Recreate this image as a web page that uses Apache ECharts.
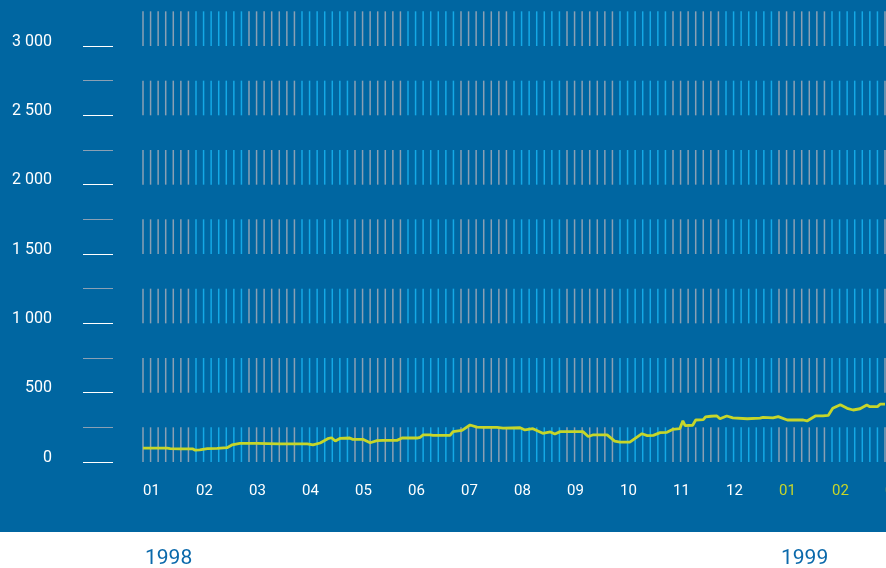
<!DOCTYPE html>
<html>
<head>
<meta charset="utf-8">
<script src="https://cdn.jsdelivr.net/npm/echarts@6/dist/echarts.min.js"></script>
<style>html,body{margin:0;padding:0;background:#fff}#c{width:886px;height:568px}</style>
</head>
<body>
<div id="c"></div>
<script>
// Month labels (one per month block, 7 stripes per month)
var monthLabels = ['01','02','03','04','05','06','07','08','09','10','11','12','01','02','03'];
var yearLabels = ['1998', '1999'];
var yTicks = [0, 500, 1000, 1500, 2000, 2500, 3000];
// Line: position along the time axis (in stripe units, 7 per month) and value
var lineX = [0,3.2,3.6,4.9,6.6,6.9,7.5,8.5,9.8,11.1,11.75,12.8,15.1,16.4,18.1,21.7,22.45,23.4,24.4,24.9,25.4,26.0,27.3,27.7,29.1,30.0,30.9,31.7,33.55,34.2,36.2,36.6,37.0,37.9,38.3,40.55,40.95,42.13,43.19,44.11,44.9,46.76,47.55,49.8,50.45,51.5,52.8,53.8,54.4,55.1,58.1,58.8,59.4,61.3,62.3,63.0,64.3,65.9,66.6,67.4,68.3,69.2,70.0,70.9,71.3,71.6,72.6,73.0,74.0,74.3,75.0,75.8,76.2,77.1,77.9,79.8,81.5,81.9,83.2,83.9,85.1,87.2,87.7,88.8,89.8,90.5,91.1,92.1,93.0,93.8,94.7,95.6,96.0,97.0,97.4,98.0];
var lineY = [100,100,97,95,94,85,88,96,98,103,123,135,135,133,130,130,123,137,168,175,151,170,173,163,163,139,154,156,156,173,173,178,195,195,192,192,219,228,267,252,250,250,245,247,231,240,207,217,202,219,219,184,195,195,151,144,144,204,190,192,212,214,236,240,297,262,265,303,305,325,330,332,312,332,318,312,316,322,318,327,303,303,296,332,332,336,387,413,387,375,384,411,399,399,418,418];

var stripesPerMonth = 7;
var monthCount = monthLabels.length - 1;
var bandStarts = [0, 500, 1000, 1500, 2000, 2500, 3000];
var bandHeight = 250;

var stripeData = [];
for (var i = 0; i <= monthCount * stripesPerMonth; i++) stripeData.push([i]);
var lineData = lineX.map(function (x, k) { return [x, lineY[k]]; });

var BG = '#0066a1';
var GREY = '#8aa0b4';
var BLUE = '#14a9e6';
var LINE = '#c6d62a';

var chart = echarts.init(document.getElementById('c'), null, {renderer: 'canvas'});
chart.setOption({
  backgroundColor: '#ffffff',
  animation: false,
  graphic: [{type: 'rect', z: -10, silent: true, shape: {x: 0, y: 0, width: 886, height: 532}, style: {fill: BG}}],
  grid: [
    {left: 143, top: 46, width: 742, height: 416, containLabel: false, outerBoundsMode: 'none'},
    {left: 113, top: 46, width: 1, height: 416, containLabel: false, outerBoundsMode: 'none'}
  ],
  xAxis: [{
    type: 'value', gridIndex: 0, min: 0, max: monthCount * stripesPerMonth, interval: stripesPerMonth,
    axisLine: {show: false}, axisTick: {show: false}, splitLine: {show: false},
    axisLabel: {
      show: true, showMinLabel: true, showMaxLabel: true, align: 'left', margin: 22, hideOverlap: false,
      fontFamily: 'Roboto', fontSize: 15,
      formatter: function (v) { return monthLabels[Math.round(v / stripesPerMonth)] || ''; },
      color: function (v) { return Math.round(v / stripesPerMonth) >= 12 ? '#c6d62a' : '#ffffff'; }
    }
  }, {
    type: 'value', gridIndex: 0, min: 0, max: monthCount * stripesPerMonth, interval: 12 * stripesPerMonth, position: 'bottom',
    axisLine: {show: false}, axisTick: {show: false}, splitLine: {show: false},
    axisLabel: {
      showMinLabel: true, showMaxLabel: false, align: 'left', margin: 86,
      fontFamily: 'Roboto', fontSize: 21, color: '#0a69ab', padding: [0, 0, 0, 2],
      formatter: function (v) { var k = Math.round(v / (12 * stripesPerMonth)); return (v % (12 * stripesPerMonth) === 0 && yearLabels[k]) ? yearLabels[k] : ''; }
    }
  }, {
    type: 'value', gridIndex: 1, min: 0, max: 1, show: false
  }],
  yAxis: [{
    type: 'value', gridIndex: 0, min: 0, max: 3000, interval: 500, show: false
  }, {
    type: 'value', gridIndex: 1, min: 0, max: 3000, interval: 500,
    axisLine: {show: false},
    axisTick: {show: true, length: 30, lineStyle: {color: '#ffffff', width: 1}},
    minorTick: {show: true, splitNumber: 2, length: 30, lineStyle: {color: '#8aa0b4', width: 1}},
    splitLine: {show: false}, minorSplitLine: {show: false},
    axisLabel: {
      margin: 61, fontFamily: 'Roboto', fontSize: 16, color: '#ffffff', verticalAlign: 'bottom', lineHeight: 9,
      formatter: function (v) { return yTicks.indexOf(v) >= 0 ? String(v).replace(/\B(?=(\d{3})+(?!\d))/g, ' ') : ''; }
    }
  }],
  series: [{
    type: 'custom', z: 1, silent: true, clip: false, xAxisIndex: 0, yAxisIndex: 0,
    data: stripeData,
    encode: {x: 0},
    renderItem: function (params, api) {
      var idx = api.value(0);
      var color = Math.floor(idx / stripesPerMonth) % 2 === 0 ? GREY : BLUE;
      var children = bandStarts.map(function (b) {
        var p0 = api.coord([idx, b]);
        var p1 = api.coord([idx, b + bandHeight]);
        return {type: 'line', shape: {x1: p0[0], y1: p0[1], x2: p1[0], y2: p1[1]}, style: {stroke: color, lineWidth: 1.5}};
      });
      return {type: 'group', children: children};
    }
  }, {
    type: 'line', z: 5, xAxisIndex: 0, yAxisIndex: 0, data: lineData, showSymbol: false, symbol: 'none', clip: false,
    lineStyle: {color: LINE, width: 2.8}
  }]
});
</script>
</body>
</html>
